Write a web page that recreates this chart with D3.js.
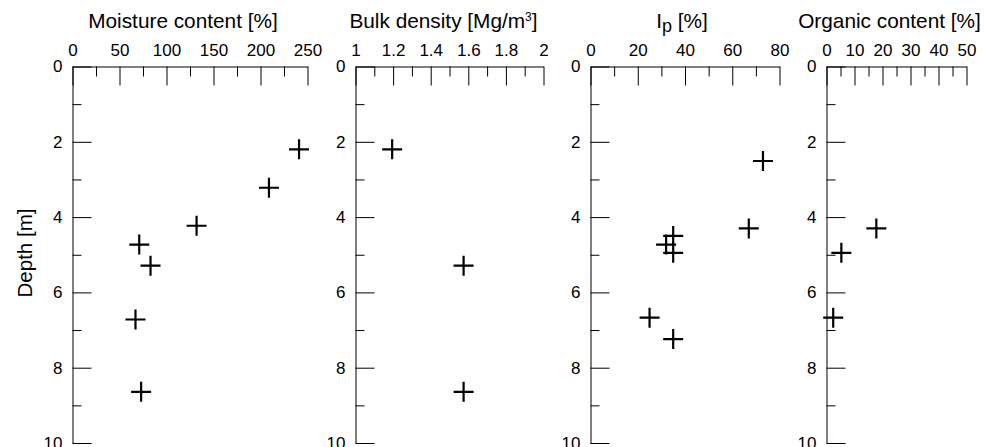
<html>
<head>
  <script src="https://d3js.org/d3.v7.min.js"></script>
  <style>
    body { margin: 0; background: #fff; }
    text { font-family: "Liberation Sans", Arial, sans-serif; fill: #000; }
    .axis path, .axis line { stroke: #000; stroke-width: 1px; }
    .axis text { font-size: 17px; font-family: "Liberation Sans", Arial, sans-serif; }
  </style>
</head>
<body>
  <svg id="chart" width="984" height="447"></svg>
  <script>
    // depth [m] and value for each panel
    const depthMoisture = [2.2, 3.22, 4.23, 4.73, 5.29, 6.72, 8.64];
    const moisture = [241, 209, 132, 71, 83, 67, 73];
    const depthDensity = [2.2, 5.29, 8.64];
    const density = [1.195, 1.575, 1.575];
    const depthIp = [2.51, 4.3, 4.5, 4.73, 4.95, 6.67, 7.24];
    const ip = [73, 67, 35, 32, 35, 25, 35];
    const depthOrganic = [4.3, 4.95, 6.67];
    const organic = [17.8, 5.3, 2.4];

    const depthTicks = [0, 2, 4, 6, 8, 10];
    const depthMinor = [1, 3, 5, 7, 9];

    const moistureTicks = [0, 50, 100, 150, 200, 250];
    const moistureMinor = [25, 75, 125, 175, 225];
    const densityTicks = [1, 1.2, 1.4, 1.6, 1.8, 2];
    const densityMinor = [1.1, 1.3, 1.5, 1.7, 1.9];
    const ipTicks = [0, 20, 40, 60, 80];
    const ipMinor = [10, 30, 50, 70];
    const organicTicks = [0, 10, 20, 30, 40, 50];
    const organicMinor = [5, 15, 25, 35, 45];

    const svg = d3.select("svg#chart");
    const plotTop = 66.5, plotBottom = 443;
    const yScale = d3.scaleLinear().domain([0, 10]).range([plotTop, plotBottom]);

    const panels = [
      { title: "moisture", x: moisture, y: depthMoisture, domain: [0, 250], range: [72.5, 307.5], ticks: moistureTicks, minor: moistureMinor, dx: -7 },
      { title: "density", x: density, y: depthDensity, domain: [1, 2], range: [355.5, 543.5], ticks: densityTicks, minor: densityMinor, dx: -6 },
      { title: "ip", x: ip, y: depthIp, domain: [0, 80], range: [590.5, 779.5], ticks: ipTicks, minor: ipMinor, dx: -3 },
      { title: "organic", x: organic, y: depthOrganic, domain: [0, 50], range: [826.5, 966.5], ticks: organicTicks, minor: organicMinor, dx: -7 }
    ];

    const cross = "M-10,0H10M0,-10V10";

    panels.forEach(p => {
      const xScale = d3.scaleLinear().domain(p.domain).range(p.range);
      const g = svg.append("g");

      // top axis, ticks pointing inward
      g.append("g").attr("class", "axis")
        .attr("transform", "translate(0," + plotTop + ")")
        .call(d3.axisTop(xScale).tickValues(p.ticks).tickSizeInner(-19).tickSizeOuter(0).tickPadding(11)
          .tickFormat(d3.format("~g")));
      g.append("g").attr("class", "axis minor")
        .attr("transform", "translate(0," + plotTop + ")")
        .call(d3.axisTop(xScale).tickValues(p.minor).tickSize(-10).tickFormat(""))
        .call(a => a.select(".domain").remove());

      // left depth axis
      g.append("g").attr("class", "axis")
        .attr("transform", "translate(" + p.range[0] + ",0)")
        .call(d3.axisLeft(yScale).tickValues(depthTicks).tickSizeInner(-19).tickSizeOuter(0).tickPadding(10));
      g.append("g").attr("class", "axis minor")
        .attr("transform", "translate(" + p.range[0] + ",0)")
        .call(d3.axisLeft(yScale).tickValues(depthMinor).tickSize(-9).tickFormat(""))
        .call(a => a.select(".domain").remove());

      // points
      g.selectAll("path.pt").data(p.x)
        .join("path")
        .attr("class", "pt")
        .attr("d", cross)
        .attr("transform", (d, i) => "translate(" + xScale(d) + "," + yScale(p.y[i]) + ")")
        .style("stroke", "#000")
        .style("stroke-width", 2.2)
        .style("fill", "none");

      // title
      const t = g.append("text")
        .attr("x", (p.range[0] + p.range[1]) / 2 + p.dx)
        .attr("y", 28)
        .attr("text-anchor", "middle")
        .style("font-size", "20.8px");
      if (p.title === "moisture") {
        t.text("Moisture content [%]");
      } else if (p.title === "density") {
        t.append("tspan").text("Bulk density [Mg/m");
        t.append("tspan").text("3").attr("dy", -7).style("font-size", "12px");
        t.append("tspan").text("]").attr("dy", 7);
      } else if (p.title === "ip") {
        t.append("tspan").text("I");
        t.append("tspan").text("p").attr("dy", 4).style("font-size", "18px");
        t.append("tspan").text(" [%]").attr("dy", -4);
      } else {
        t.text("Organic content [%]");
      }
    });

    svg.append("text")
      .text("Depth [m]")
      .attr("transform", "translate(32,253) rotate(-90)")
      .attr("text-anchor", "middle")
      .style("font-size", "20.5px");
  </script>
</body>
</html>
